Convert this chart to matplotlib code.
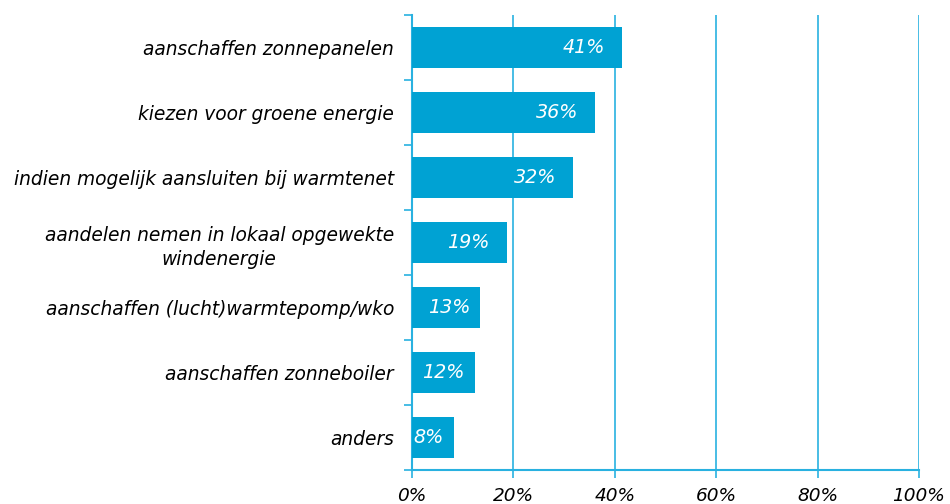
import numpy as np
import matplotlib.pyplot as plt

# data
categories = [
    "aanschaffen zonnepanelen",
    "kiezen voor groene energie",
    "indien mogelijk aansluiten bij warmtenet",
    "aandelen nemen in lokaal opgewekte\nwindenergie",
    "aanschaffen (lucht)warmtepomp/wko",
    "aanschaffen zonneboiler",
    "anders",
]
values = [41.4, 36.1, 31.8, 18.7, 13.4, 12.4, 8.3]
value_labels = ["41%", "36%", "32%", "19%", "13%", "12%", "8%"]
x_ticks = [0, 20, 40, 60, 80, 100]
x_tick_labels = ["0%", "20%", "40%", "60%", "80%", "100%"]

bar_color = "#00a2d3"
line_color = "#29b1e0"

fig = plt.figure(figsize=(9.5, 5.04), dpi=100)
ax = fig.add_axes([0.4337, 0.0675, 0.5337, 0.9025])

y = np.arange(len(categories))
ax.barh(y, values, height=0.62, color=bar_color, zorder=3)

ax.set_xlim(0, 100)
ax.set_ylim(len(categories) - 0.5, -0.5)

ax.set_xticks(x_ticks)
ax.set_xticklabels(x_tick_labels, fontsize=13.3, fontstyle="italic")
ax.set_yticks(y)
ax.set_yticklabels(categories, fontsize=13.4, fontstyle="italic",
                   multialignment="center", linespacing=1.35)
ax.set_yticks(np.arange(len(categories) + 1) - 0.5, minor=True)

ax.tick_params(axis="y", which="major", length=0, pad=13)
ax.tick_params(axis="y", which="minor", length=6, width=1.2,
               color=line_color, direction="out")
ax.tick_params(axis="x", which="major", length=6, width=1.2,
               color=line_color, direction="out", pad=6)

# grid
ax.grid(axis="x", color=line_color, linewidth=1.2, zorder=0)
ax.set_axisbelow(True)

for side in ["top", "right"]:
    ax.spines[side].set_visible(False)
for side in ["left", "bottom"]:
    ax.spines[side].set_color(line_color)
    ax.spines[side].set_linewidth(1.5)

# value labels inside bars, moved left when the bar is short
fig.canvas.draw()
renderer = fig.canvas.get_renderer()
px_per_unit = ax.transData.transform((1, 0))[0] - ax.transData.transform((0, 0))[0]
for yi, v, lab in zip(y, values, value_labels):
    t = ax.text(0, yi, lab, ha="left", va="center", color="white",
                fontsize=13.8, fontstyle="italic", zorder=4)
    w = t.get_window_extent(renderer).width
    bar_px = v * px_per_unit
    left = bar_px - 17 - w
    left = max(left, min(18, bar_px - w - 10))
    t.set_x(left / px_per_unit)

fig.savefig("out.png", dpi=100)
